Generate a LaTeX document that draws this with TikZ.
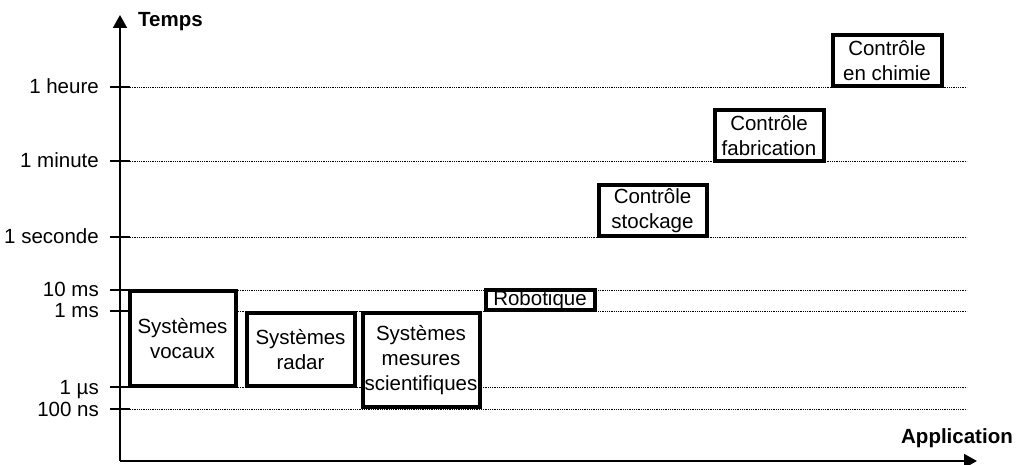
\documentclass[tikz,border=0pt]{standalone}
\usepackage{fontspec}
\setmainfont{Liberation Sans}
\usetikzlibrary{arrows.meta,positioning}
\tikzset{
        axe/.style={line width=2pt, -{Triangle[length=13pt,width=14pt]}},
        graduation/.style={line width=2pt},
        niveau/.style={line width=0.8pt, densely dotted},
        etiquette/.style={anchor=east, inner sep=0pt, text height=14pt, text depth=0pt},
        appbox/.style={draw, fill=white, line width=4pt, align=center, inner sep=0pt},
    }

\begin{document}
\begin{tikzpicture}[x=1pt, y=-1pt, font=\fontsize{20.5}{25}\selectfont]
                \useasboundingbox (0,0) rectangle (1021,465);
                % axes
                \coordinate (O) at (120,461);
                \coordinate (haut) at (120,15);
                \coordinate (droite) at (977,461);
                \draw[axe] (O) -- (haut);
                \draw[axe] (O) -- (droite);
                \node[font=\fontsize{20.5}{25}\selectfont\bfseries, anchor=base west, inner sep=0pt] (temps) at (138,27) {Temps};
                \node[font=\fontsize{20.5}{25}\selectfont\bfseries, anchor=base east, inner sep=0pt] (appli) at (1013,443) {Application};
                % graduations et niveaux
                \foreach \y/\lab/\nom in {87/1 heure/h, 161/1 minute/min, 237/1 seconde/s, 290/10 ms/dixms, 311/1 ms/ms, 387/1 µs/us, 409/100 ns/ns}
                {
                    \coordinate (a\nom) at (110,\y);
                    \coordinate (g\nom) at (130,\y);
                    \coordinate (d\nom) at (967,\y);
                    \draw[graduation] (a\nom) -- (g\nom);
                    \draw[niveau] (g\nom) -- (d\nom);
                    \node[etiquette] (t\nom) at (99,\y) {\lab};
                }
                % applications
                \node[appbox, minimum width=106pt, minimum height=94pt] (vocaux) at (182.5,338.5) {Systèmes\\vocaux};
                \node[appbox, minimum width=108pt, minimum height=72pt] (radar) at (300.5,349.5) {Systèmes\\radar};
                \node[appbox, minimum width=117pt, minimum height=93pt] (mesures) at (421,360) {Systèmes\\mesures\\scientifiques};
                \node[appbox, minimum width=109pt, minimum height=19pt] (robot) at (540,300) {Robotique};
                \node[appbox, minimum width=108pt, minimum height=51pt] (stockage) at (652.5,211) {Contrôle\\stockage};
                \node[appbox, minimum width=109pt, minimum height=51pt] (fabrication) at (769,136) {Contrôle\\fabrication};
                \node[appbox, minimum width=109pt, minimum height=51pt] (chimie) at (887,61) {Contrôle\\en chimie};
\end{tikzpicture}
\end{document}
